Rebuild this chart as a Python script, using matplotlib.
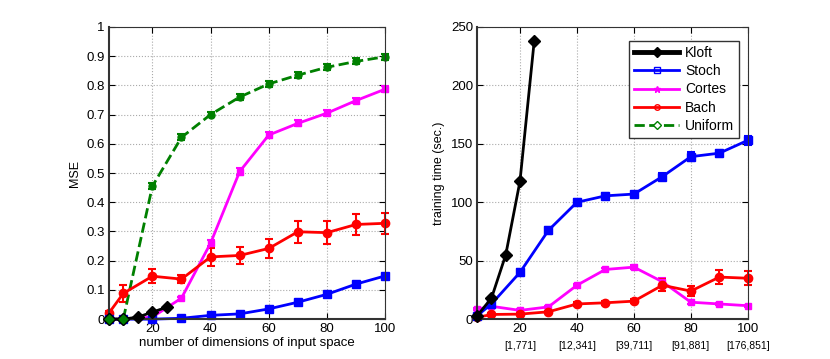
import numpy as np
import matplotlib
matplotlib.use("Agg")
import matplotlib.pyplot as plt
from matplotlib.lines import Line2D

# x positions (number of dimensions)
x_kloft = [5, 10, 15, 20, 25]
x_all = [5, 10, 20, 30, 40, 50, 60, 70, 80, 90, 100]

# ---- MSE (left) ----
mse_kloft = [0.0, 0.0, 0.007, 0.024, 0.041]
mse_stoch = [0.0, 0.0, 0.0, 0.003, 0.013, 0.018, 0.035, 0.058, 0.085, 0.12, 0.148]
mse_stoch_err = [0.002, 0.002, 0.002, 0.003, 0.004, 0.004, 0.004, 0.005, 0.006, 0.007, 0.008]
mse_cortes = [0.0, 0.0, 0.007, 0.072, 0.26, 0.505, 0.63, 0.67, 0.705, 0.748, 0.787]
mse_cortes_err = [0.002, 0.002, 0.003, 0.005, 0.01, 0.012, 0.01, 0.01, 0.01, 0.01, 0.01]
mse_bach = [0.02, 0.088, 0.147, 0.137, 0.213, 0.218, 0.242, 0.299, 0.296, 0.324, 0.328]
mse_bach_err = [0.008, 0.028, 0.025, 0.015, 0.03, 0.03, 0.033, 0.038, 0.04, 0.035, 0.036]
mse_unif = [0.0, 0.0, 0.455, 0.622, 0.700, 0.760, 0.805, 0.835, 0.862, 0.882, 0.898]
mse_unif_err = [0.002, 0.002, 0.01, 0.01, 0.009, 0.009, 0.009, 0.01, 0.01, 0.01, 0.01]

# ---- training time (right) ----
t_kloft = [3, 18, 55, 118, 238]
t_stoch = [3, 13, 40, 76, 100, 105.5, 107, 122, 139, 142, 153]
t_stoch_err = [1, 2, 3, 3, 3, 2, 2, 3, 4, 3, 4]
t_cortes = [8.5, 11, 7.5, 10.5, 29, 42.5, 44.5, 32, 14.5, 13, 11.5]
t_cortes_err = [1, 1, 1, 1, 1, 1, 1.5, 3, 1.5, 1, 1]
t_bach = [1.5, 4, 4.3, 6.3, 13, 14, 15.4, 29, 24, 36, 35]
t_bach_err = [1, 1, 1, 1, 1.5, 1.5, 2, 5, 4, 6, 6]

xticks = [20, 40, 60, 80, 100]
xtick_sub = ['[1,771]', '[12,341]', '[39,711]', '[91,881]', '[176,851]']

plt.rcParams['font.family'] = ['Liberation Sans', 'DejaVu Sans']
plt.rcParams['font.size'] = 9.5

fig = plt.figure(figsize=(8.3, 3.59), dpi=100)
ax1 = fig.add_axes([0.131, 0.111, 0.333, 0.814])
ax2 = fig.add_axes([0.575, 0.111, 0.326, 0.814])

eb = dict(capsize=3, elinewidth=1.5, capthick=1.5)


def noclip(cont):
    for a in cont.get_children():
        a.set_clip_on(False)


def draw(ax, kl, st, st_e, co, co_e, ba, ba_e, un=None, un_e=None):
    if un is not None:
        noclip(ax.errorbar(x_all, un, yerr=un_e, color='#008000', ls='--', lw=2,
                           marker='o', ms=5, mfc='#008000', label='Uniform', **eb))
    noclip(ax.errorbar(x_all, co, yerr=co_e, color='#ff00ff', lw=2, marker='s', ms=4,
                       label='Cortes', **eb))
    noclip(ax.errorbar(x_all, ba, yerr=ba_e, color='#ff0000', lw=2, marker='o', ms=6,
                       label='Bach', **eb))
    noclip(ax.errorbar(x_all, st, yerr=st_e, color='#0000ff', lw=2, marker='s', ms=6,
                       label='Stoch', **eb))
    ax.plot(x_kloft, kl, color='black', lw=2, marker='D', ms=6, label='Kloft',
            clip_on=False, zorder=4)
    if un is not None:
        ax.plot(x_all[:2], un[:2], ls='none', marker='D', ms=6, mfc='#008000',
                mec='black', mew=0.8, clip_on=False, zorder=5)


draw(ax1, mse_kloft, mse_stoch, mse_stoch_err, mse_cortes, mse_cortes_err,
     mse_bach, mse_bach_err, mse_unif, mse_unif_err)
draw(ax2, t_kloft, t_stoch, t_stoch_err, t_cortes, t_cortes_err,
     t_bach, t_bach_err)

for ax in (ax1, ax2):
    ax.set_xlim(5, 100)
    ax.set_xticks(xticks)
    ax.grid(True, ls=':', color='#aaaaaa', lw=0.8)
    ax.tick_params(direction='in', length=4, top=True, right=True, pad=3)
    for s in ax.spines.values():
        s.set_color('#333333')
    for s in ('left', 'bottom'):
        ax.spines[s].set_linewidth(1.5)

ax1.set_ylim(0, 1)
ax1.set_yticks(np.arange(0, 1.01, 0.1))
ax1.set_yticklabels(['0', '0.1', '0.2', '0.3', '0.4', '0.5', '0.6', '0.7', '0.8', '0.9', '1'])
ax1.set_ylabel('MSE', fontsize=9)
ax1.set_xlabel('number of dimensions of input space', fontsize=9.5, labelpad=1)

ax2.set_ylim(0, 250)
ax2.set_yticks([0, 50, 100, 150, 200, 250])
ax2.set_ylabel('training time (sec.)', fontsize=9)
for xt, lab in zip(xticks, xtick_sub):
    ax2.text(xt, -0.075, lab, transform=ax2.get_xaxis_transform(),
             ha='center', va='top', fontsize=7.5)

# legend in MATLAB order with plain markers
handles = [
    Line2D([], [], color='black', lw=3.5, marker='D', ms=5),
    Line2D([], [], color='#0000ff', lw=2, marker='s', ms=4, mfc='none'),
    Line2D([], [], color='#ff00ff', lw=2, marker='*', ms=5, mfc='none'),
    Line2D([], [], color='#ff0000', lw=2, marker='o', ms=4, mfc='none'),
    Line2D([], [], color='#008000', lw=2, ls='--', marker='D', ms=4, mfc='white'),
]
ax2.legend(handles, ['Kloft', 'Stoch', 'Cortes', 'Bach', 'Uniform'],
           loc='upper right', bbox_to_anchor=(0.993, 0.975), fancybox=False,
           edgecolor='#333333', framealpha=1, handlelength=3.3,
           borderpad=0.35, labelspacing=0.3, handletextpad=0.4, fontsize=10)

fig.savefig('out.png', dpi=100)
